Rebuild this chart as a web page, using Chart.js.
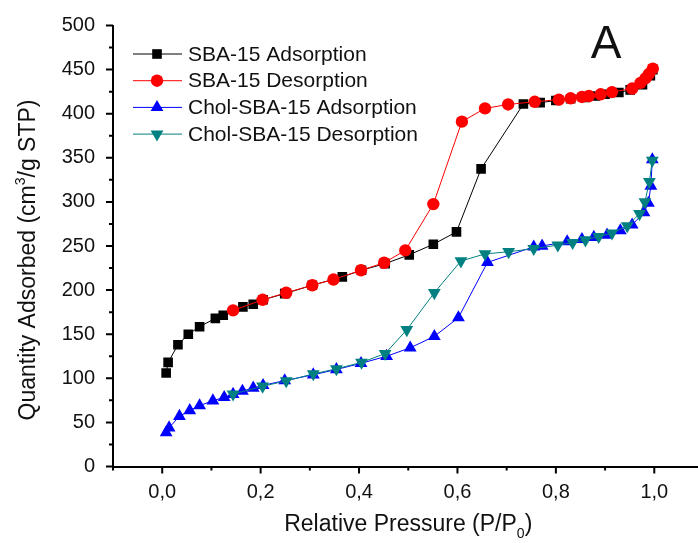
<!DOCTYPE html>
<html>
<head>
<meta charset="utf-8">
<script src="https://cdn.jsdelivr.net/npm/chart.js@4.4.1/dist/chart.umd.min.js"></script>
<style>
  html, body { margin:0; padding:0; background:#fff; overflow:hidden; }
  #wrap { width:720px; height:543px; }
</style>
</head>
<body>
<div id="wrap"><canvas id="iso"></canvas></div>
<script>
// N2 isotherms, relative pressure vs quantity adsorbed
const sbaAdsP = [0.008,0.012,0.032,0.053,0.076,0.108,0.124,0.164,0.185,0.205,0.249,0.305,0.366,0.405,0.453,0.502,0.551,0.598,0.648,0.734,0.768,0.800,0.830,0.860,0.880,0.900,0.928,0.951,0.976,0.992,0.997];
const sbaAdsQ = [106,118,138,150,158.5,168,171.5,181,184,189,196,205.5,215,222.5,230,240,252,266,337.5,411,412.5,415,417,418.5,420,422,424,427,433,443,450];

const sbaDesP = [0.997,0.989,0.982,0.972,0.955,0.914,0.891,0.867,0.853,0.830,0.806,0.757,0.703,0.656,0.609,0.551,0.494,0.451,0.404,0.348,0.305,0.252,0.204,0.144];
const sbaDesQ = [451,445,440,435,428.5,424.5,422,420,419,417.5,416,413.5,410.5,406,391,297.5,245,231,222.5,212,205.5,197,189,177];

const cholAdsP = [0.008,0.014,0.035,0.056,0.076,0.103,0.126,0.144,0.163,0.185,0.205,0.249,0.307,0.354,0.404,0.456,0.504,0.553,0.602,0.661,0.755,0.772,0.823,0.853,0.877,0.904,0.931,0.955,0.979,0.988,0.993,0.996];
const cholAdsQ = [38.5,44,57,63.5,69,74.6,78.4,82,85.5,89,92,97.4,104,110,117,125,134.6,147.5,168.8,231.4,249,250,255,257.6,260,262.5,267.4,274,288,298.6,318,348];

const cholDesP = [0.996,0.990,0.981,0.970,0.945,0.914,0.887,0.860,0.834,0.804,0.755,0.704,0.656,0.607,0.553,0.497,0.453,0.405,0.354,0.307,0.252,0.204,0.144];
const cholDesQ = [347,323,300,286.5,272.8,264.5,260.6,256.8,253.8,251,247,243.5,241,233,197,155,128,118,110.7,105,97,91,82];

const seriesNames = ['SBA-15 Adsorption','SBA-15 Desorption','Chol-SBA-15 Adsorption','Chol-SBA-15 Desorption'];

const xTickLabel = v => {
  const r = Math.round(v * 10);
  return (r >= 0 && r % 2 === 0) ? (r / 10).toFixed(1).replace('.', ',') : '';
};
const yTickLabel = v => (Math.round(v) % 50 === 0 ? String(Math.round(v)) : '');

const pts = (xs, ys) => xs.map((x, i) => ({x, y: ys[i]}));
const FONT = '"Liberation Sans", Arial, sans-serif';

const makeSet = (label, xs, ys, color, style, radius, order, rotation=0) => ({
  label, data: pts(xs, ys), order,
  borderColor: color, backgroundColor: color, borderWidth: 1,
  pointStyle: style, pointRadius: radius, pointHoverRadius: radius, pointRotation: rotation,
  pointBorderWidth: 0, tension: 0, clip: 0
});

// tick marks, axis titles, inset legend and panel letter
const decor = {
  id: 'decor',
  afterDraw(chart) {
    const {ctx, chartArea: a, scales: {x, y}} = chart;
    ctx.save();
    ctx.strokeStyle = '#000';
    ctx.lineWidth = 2;
    ctx.beginPath();
    x.ticks.forEach(t => {
      const r = Math.round(t.value * 10);
      const len = r % 2 === 0 ? 7 : 4;
      const px = x.getPixelForValue(t.value);
      ctx.moveTo(px, a.bottom); ctx.lineTo(px, a.bottom + len);
    });
    y.ticks.forEach(t => {
      const len = Math.round(t.value) % 50 === 0 ? 7 : 4;
      const py = y.getPixelForValue(t.value);
      ctx.moveTo(a.left, py); ctx.lineTo(a.left - len, py);
    });
    ctx.stroke();

    ctx.fillStyle = '#111';
    ctx.textBaseline = 'alphabetic';

    // x title with subscript
    const xt1 = 'Relative Pressure (P/P', xt2 = '0', xt3 = ')';
    ctx.font = '23px ' + FONT;
    const w1 = ctx.measureText(xt1).width, w3 = ctx.measureText(xt3).width;
    ctx.font = '14px ' + FONT;
    const w2 = ctx.measureText(xt2).width;
    let sx = (a.left + a.right) / 2 - (w1 + w2 + w3) / 2;
    const by = 531;
    ctx.textAlign = 'left';
    ctx.font = '23px ' + FONT; ctx.fillText(xt1, sx, by);
    ctx.font = '14px ' + FONT; ctx.fillText(xt2, sx + w1, by + 7);
    ctx.font = '23px ' + FONT; ctx.fillText(xt3, sx + w1 + w2, by);

    // y title with superscript
    ctx.save();
    ctx.translate(35, 260);
    ctx.rotate(-Math.PI / 2);
    const yt1 = 'Quantity Adsorbed (cm', yt2 = '3', yt3 = '/g STP)';
    ctx.font = '23px ' + FONT;
    const v1 = ctx.measureText(yt1).width, v3 = ctx.measureText(yt3).width;
    ctx.font = '14px ' + FONT;
    const v2 = ctx.measureText(yt2).width;
    let tx = -(v1 + v2 + v3) / 2;
    ctx.font = '23px ' + FONT; ctx.fillText(yt1, tx, 0);
    ctx.font = '14px ' + FONT; ctx.fillText(yt2, tx + v1, -10);
    ctx.font = '23px ' + FONT; ctx.fillText(yt3, tx + v1 + v2, 0);
    ctx.restore();

    // legend
    chart.data.datasets.forEach((ds, i) => {
      const cy = 54 + i * 26.7;
      ctx.strokeStyle = ds.borderColor;
      ctx.lineWidth = 1;
      ctx.beginPath(); ctx.moveTo(133, cy); ctx.lineTo(182, cy); ctx.stroke();
      ctx.fillStyle = ds.backgroundColor;
      Chart.helpers.drawPoint(ctx, {pointStyle: ds.pointStyle, radius: ds.pointRadius, rotation: ds.pointRotation, borderWidth: 0}, 157, cy);
      ctx.fillStyle = '#111';
      ctx.font = '21px ' + FONT;
      ctx.textBaseline = 'middle';
      ctx.fillText(ds.label, 188, cy + 1);
    });

    ctx.textBaseline = 'alphabetic';
    ctx.textAlign = 'center';
    ctx.font = '46px ' + FONT;
    ctx.fillText('A', 606, 58);
    ctx.restore();
  }
};

new Chart(document.getElementById('iso'), {
  type: 'line',
  data: {
    datasets: [
      makeSet(seriesNames[0], sbaAdsP, sbaAdsQ, '#000000', 'rect', 6.8, 2),
      makeSet(seriesNames[1], sbaDesP, sbaDesQ, '#ff0000', 'circle', 6.2, 1),
      makeSet(seriesNames[2], cholAdsP, cholAdsQ, '#0000ff', 'triangle', 7.4, 4),
      makeSet(seriesNames[3], cholDesP, cholDesQ, '#008080', 'triangle', 7.4, 3, 180)
    ]
  },
  options: {
    responsive: true,
    maintainAspectRatio: false,
    animation: false,
    layout: { padding: { left: 0, right: 16.5, top: 25.5, bottom: 0 } },
    plugins: { legend: { display: false }, tooltip: { enabled: false } },
    scales: {
      x: {
        type: 'linear', min: -0.1, max: 1.1,
        afterFit: s => { s.height = 76.5; },
        ticks: { stepSize: 0.1, autoSkip: false, maxRotation: 0, padding: 6, color: '#111', font: { family: FONT, size: 20 }, callback: xTickLabel },
        grid: { display: false },
        border: { display: true, color: '#000', width: 2 }
      },
      y: {
        type: 'linear', min: 0, max: 500,
        afterFit: s => { s.width = 113; },
        ticks: { stepSize: 25, autoSkip: false, padding: 10, color: '#111', font: { family: FONT, size: 20 }, callback: yTickLabel },
        grid: { display: false },
        border: { display: true, color: '#000', width: 2 }
      }
    }
  },
  plugins: [decor]
});
</script>
</body>
</html>
